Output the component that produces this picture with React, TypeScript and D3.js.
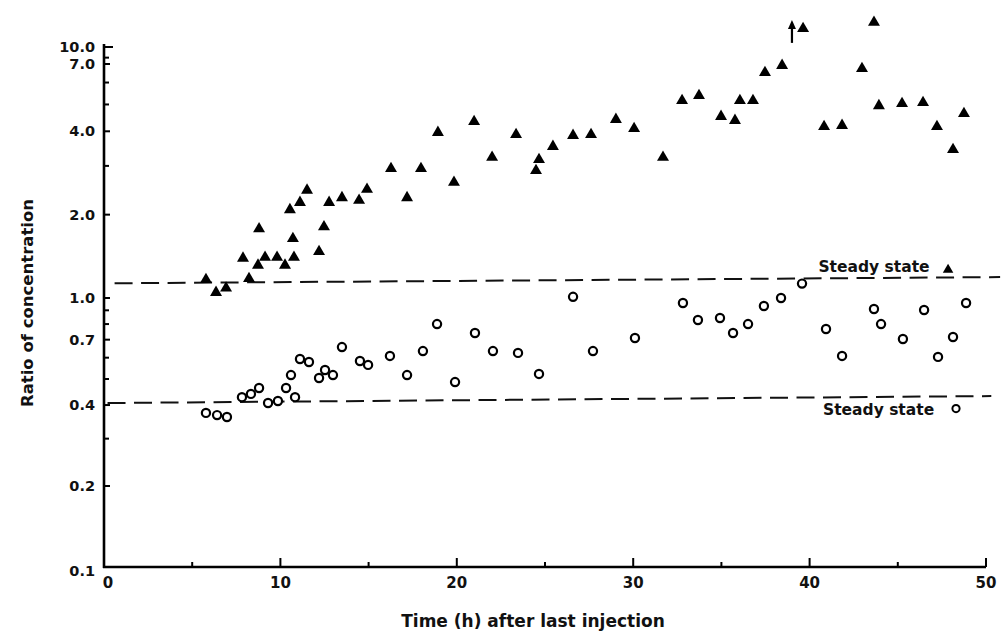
import React from "react";
import * as d3 from "d3";

// ---- data ----
const triTime = [5.78, 6.35, 6.92, 7.88, 8.22, 8.73, 8.79, 9.13, 9.81, 10.26, 10.77, 10.71, 10.54, 11.11, 11.51, 12.19, 12.47, 12.76, 13.49, 14.46, 14.91, 16.27, 17.18, 17.97, 18.93, 19.84, 20.98, 22.0, 23.36, 24.49, 24.66, 25.45, 26.59, 27.61, 29.02, 30.05, 31.69, 32.77, 33.73, 34.98, 35.77, 36.05, 36.79, 37.47, 38.44, 39.63, 40.82, 41.84, 42.97, 43.65, 43.93, 45.24, 46.43, 47.22, 48.13, 48.75];
const triRatio = [1.18, 1.06, 1.10, 1.41, 1.19, 1.33, 1.80, 1.42, 1.42, 1.33, 1.42, 1.66, 2.11, 2.24, 2.48, 1.49, 1.83, 2.24, 2.33, 2.28, 2.50, 2.97, 2.33, 2.97, 4.01, 2.65, 4.39, 3.26, 3.94, 2.92, 3.20, 3.57, 3.91, 3.94, 4.47, 4.14, 3.26, 5.23, 5.45, 4.58, 4.43, 5.23, 5.23, 6.60, 7.0, 15.2, 4.21, 4.25, 6.82, 17.3, 5.01, 5.10, 5.14, 4.21, 3.48, 4.69];

const circTime = [5.78, 6.41, 6.97, 7.82, 8.33, 8.79, 9.30, 9.86, 10.32, 10.83, 10.60, 11.11, 11.62, 12.19, 12.53, 12.98, 13.49, 14.51, 14.97, 16.21, 17.18, 18.08, 18.88, 19.90, 21.03, 22.05, 23.47, 24.66, 26.59, 27.72, 30.10, 32.82, 33.67, 34.92, 35.66, 36.51, 37.41, 38.38, 39.57, 40.93, 41.84, 43.65, 44.05, 45.29, 46.49, 47.28, 48.13, 48.87];
const circRatio = [0.374, 0.367, 0.361, 0.428, 0.440, 0.463, 0.407, 0.414, 0.463, 0.428, 0.517, 0.593, 0.578, 0.504, 0.540, 0.517, 0.657, 0.583, 0.564, 0.609, 0.517, 0.635, 0.800, 0.487, 0.741, 0.635, 0.625, 0.522, 1.01, 0.635, 0.710, 0.958, 0.828, 0.843, 0.741, 0.800, 0.934, 1.0, 1.127, 0.767, 0.609, 0.910, 0.800, 0.704, 0.902, 0.604, 0.716, 0.958];

// steady-state reference lines (start / end)
const steadyTriTime = [0.6, 50.8];
const steadyTriRatio = [1.13, 1.19];
const steadyCircTime = [0.2, 50.3];
const steadyCircRatio = [0.407, 0.432];

// off-scale arrow
const arrowTime = 39.0;
const arrowRatio = [10.9, 17.6];

// ticks
const xMajorTicks = [0, 10, 20, 30, 40, 50];
const xMinorTicks = [5, 15, 25, 35, 45];
const yLabelTicks = [10, 7, 4, 2, 1, 0.7, 0.4, 0.2, 0.1];
const yMinorTicks = [8, 6, 5, 3, 0.9, 0.8, 0.6, 0.5, 0.3];

const xTitle = "Time (h) after last injection";
const yTitle = "Ratio of concentration";
const legendText = "Steady state";

export default function App() {
  const W = 1003;
  const H = 631;
  const x = d3.scaleLinear().domain([0, 50]).range([104, 986]);
  const y = d3.scaleLog().domain([0.1, 1, 7, 10]).range([567, 298, 64, 47]);
  const fmt = d3.format(".1f");
  const font = "'DejaVu Sans', Verdana, sans-serif";
  const tri = d3.symbol().type(d3.symbolTriangle).size(62)() as string;
  const triLegend = d3.symbol().type(d3.symbolTriangle).size(48)() as string;
  const line = d3
    .line<[number, number]>()
    .x((d) => x(d[0]))
    .y((d) => y(d[1]));

  const axisY = y(0.1);
  const axisX = x(0);

  return (
    <svg
      width={W}
      height={H}
      style={{ position: "absolute", left: 0, top: 0, background: "#fff" }}
    >
      <rect width={W} height={H} fill="#fff" />
      {/* steady state lines */}
      <path
        d={line(steadyTriTime.map((t, i) => [t, steadyTriRatio[i]]) as any) as string}
        stroke="#111"
        strokeWidth={2}
        fill="none"
        strokeDasharray="18 8.5"
      />
      <path
        d={line(steadyCircTime.map((t, i) => [t, steadyCircRatio[i]]) as any) as string}
        stroke="#111"
        strokeWidth={2}
        fill="none"
        strokeDasharray="18 8.5"
      />

      {/* axes */}
      <line x1={axisX} x2={axisX} y1={axisY + 1} y2={y(10) - 3} stroke="#000" strokeWidth={2.6} />
      <line x1={axisX - 1} x2={x(50)} y1={axisY} y2={axisY} stroke="#000" strokeWidth={2.6} />
      {yLabelTicks.map((v) => (
        <g key={"yl" + v}>
          {v !== 0.1 && (
            <line x1={axisX} x2={axisX + (v === 10 ? 9 : 6)} y1={y(v)} y2={y(v)} stroke="#000" strokeWidth={2} />
          )}
          <text
            x={95}
            y={y(v) + (v === 0.1 ? 4 : 0)}
            textAnchor="end"
            dominantBaseline="central"
            fontFamily={font}
            fontWeight="bold"
            fontSize={14.5}
            fill="#111"
          >
            {fmt(v)}
          </text>
        </g>
      ))}
      {yMinorTicks.map((v) => (
        <line key={"ym" + v} x1={axisX} x2={axisX + 5} y1={y(v)} y2={y(v)} stroke="#000" strokeWidth={2} />
      ))}
      {xMajorTicks.map((v) => (
        <g key={"xl" + v}>
          {v !== 0 && (
            <line x1={x(v)} x2={x(v)} y1={axisY} y2={axisY - 9} stroke="#000" strokeWidth={2} />
          )}
          <text
            x={x(v) + (v === 0 ? 4 : 0)}
            y={588}
            textAnchor="middle"
            fontFamily={font}
            fontWeight="bold"
            fontSize={15}
            fill="#111"
          >
            {v}
          </text>
        </g>
      ))}
      {xMinorTicks.map((v) => (
        <line key={"xm" + v} x1={x(v)} x2={x(v)} y1={axisY} y2={axisY - 5} stroke="#000" strokeWidth={2} />
      ))}

      {/* titles */}
      <text
        x={533}
        y={627}
        textAnchor="middle"
        fontFamily={font}
        fontWeight="bold"
        fontSize={17}
        fill="#111"
      >
        {xTitle}
      </text>
      <text
        transform={`translate(33, 303) rotate(-90)`}
        textAnchor="middle"
        fontFamily={font}
        fontWeight="bold"
        fontSize={16.5}
        fill="#111"
      >
        {yTitle}
      </text>

      {/* circles */}
      {circTime.map((t, i) => (
        <circle
          key={"c" + i}
          cx={x(t)}
          cy={y(circRatio[i])}
          r={4.1}
          fill="#fff"
          stroke="#000"
          strokeWidth={2.2}
        />
      ))}
      {/* triangles */}
      {triTime.map((t, i) => (
        <path key={"t" + i} d={tri} transform={`translate(${x(t)},${y(triRatio[i]) + 1.5})`} fill="#000" />
      ))}

      {/* off-scale arrow */}
      <line
        x1={x(arrowTime)}
        x2={x(arrowTime)}
        y1={y(arrowRatio[0])}
        y2={y(arrowRatio[1]) + 6}
        stroke="#000"
        strokeWidth={2.2}
      />
      <path
        d={`M${x(arrowTime) - 4},${y(arrowRatio[1]) + 9} L${x(arrowTime)},${y(arrowRatio[1])} L${x(arrowTime) + 4},${y(arrowRatio[1]) + 9} Z`}
        fill="#000"
      />

      {/* legends */}
      <text
        x={x(40.5)}
        y={y(1.29)}
        dominantBaseline="central"
        fontFamily={font}
        fontWeight="bold"
        fontSize={15.5}
        fill="#111"
      >
        {legendText}
      </text>
      <path d={triLegend} transform={`translate(${x(47.85)},${y(1.28) + 1.5})`} fill="#000" />
      <text
        x={x(40.76)}
        y={y(0.383)}
        dominantBaseline="central"
        fontFamily={font}
        fontWeight="bold"
        fontSize={15.5}
        fill="#111"
      >
        {legendText}
      </text>
      <circle cx={x(48.3)} cy={y(0.388)} r={3.6} fill="#fff" stroke="#000" strokeWidth={2} />
    </svg>
  );
}
